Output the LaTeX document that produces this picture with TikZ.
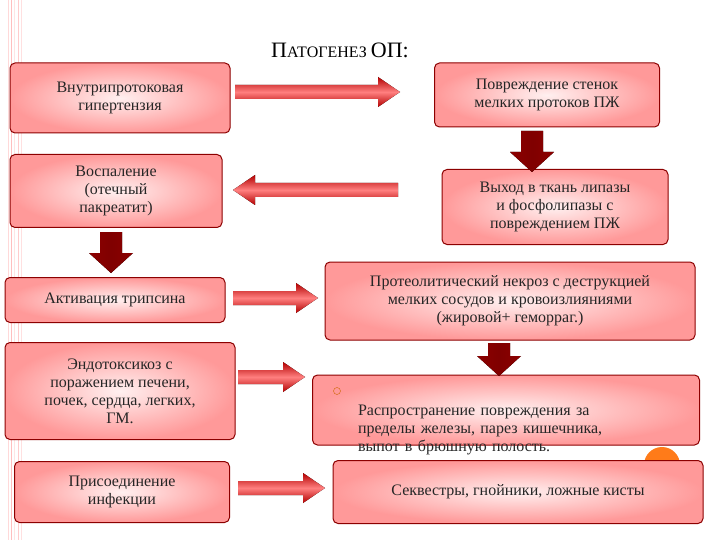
\documentclass[tikz,border=0pt]{standalone}
\usepackage{fontspec}
\setmainfont{Liberation Serif}
\tikzset{
 box/.style={draw=red!55!black,line width=1pt,rounded corners=5pt,inner color=red!6,outer color=red!40,align=center,font=\fontsize{16}{18}\selectfont,text=black!85},
 hshade/.style={draw=none,top color=red!70!black,bottom color=red!70!black,middle color=red!50},
 vshade/.style={draw=none,left color=red!55!black,right color=red!55!black,middle color=red!50!black}
}
\newcommand{\rarr}[4]{\fill[hshade] (#1,#3-7) -- (#2-22,#3-7) -- (#2-22,#3-15) -- (#2,#3) -- (#2-22,#3+15) -- (#2-22,#3+7) -- (#1,#3+7) -- cycle;}
\newcommand{\larr}[4]{\fill[hshade] (#2,#3-7) -- (#1+22,#3-7) -- (#1+22,#3-15) -- (#1,#3) -- (#1+22,#3+15) -- (#1+22,#3+7) -- (#2,#3+7) -- cycle;}
\newcommand{\darr}[3]{\fill[vshade] (#1-11,#2) -- (#1+11,#2) -- (#1+11,#3-20) -- (#1+22,#3-20) -- (#1,#3) -- (#1-22,#3-20) -- (#1-11,#3-20) -- cycle;}
\begin{document}
\begin{tikzpicture}[x=1pt,y=-1pt]
\useasboundingbox (0,0) rectangle (720,540);
\fill[white] (0,0) rectangle (720,540);
\foreach \xx/\c in {8/red!15,11/red!25,14/red!10,18/red!20,21/red!12} \draw[\c,line width=1pt] (\xx,0) -- (\xx,540);
\fill[orange!85!red!90] (662,465) circle (18);
\node (title) at (340,50) {\fontsize{22}{24}\selectfont П\fontsize{16}{18}\selectfont АТОГЕНЕЗ \fontsize{22}{24}\selectfont ОП:};
\node[box,minimum width=220,minimum height=70] (b1) at (120,98) {Внутрипротоковая\\гипертензия};
\node[box,minimum width=225,minimum height=64] (b2) at (547,95) {Повреждение стенок\\мелких протоков ПЖ};
\node[box,minimum width=212,minimum height=73] (b3) at (116,191) {Воспаление\\(отечный\\пакреатит)};
\node[box,minimum width=226,minimum height=75] (b4) at (555,207) {Выход в ткань липазы\\и фосфолипазы с\\повреждением ПЖ};
\node[box,minimum width=220,minimum height=45] (b5) at (115,300) {Активация трипсина};
\node[box,minimum width=370,minimum height=78] (b6) at (510,301) {Протеолитический некроз с деструкцией\\мелких сосудов и кровоизлияниями\\(жировой+ геморраг.)};
\node[box,minimum width=230,minimum height=97] (b7) at (120,391) {Эндотоксикоз с\\поражением печени,\\почек, сердца, легких,\\ГМ.};
\node[box,minimum width=387,minimum height=70,align=left,text width=352,text depth=0pt] (b8) at (506,410) {\hspace*{28pt}Распространение повреждения за\\\hspace*{28pt}пределы железы, парез кишечника,\\\hspace*{28pt}выпот в брюшную полость.};
\draw[orange!80!black] (337,391) circle (3.5);
\node[box,minimum width=215,minimum height=61] (b9) at (122,492) {Присоединение\\инфекции};
\node[box,minimum width=370,minimum height=63] (b10) at (518,492) {Секвестры, гнойники, ложные кисты};
\rarr{235}{400}{92}{}
\larr{233}{398}{190}{}
\rarr{233}{318}{298}{}
\rarr{238}{305}{377}{}
\rarr{238}{325}{488}{}
\darr{532}{131}{172}
\darr{111}{232}{273}
\darr{499}{343}{376}
\end{tikzpicture}
\end{document}
